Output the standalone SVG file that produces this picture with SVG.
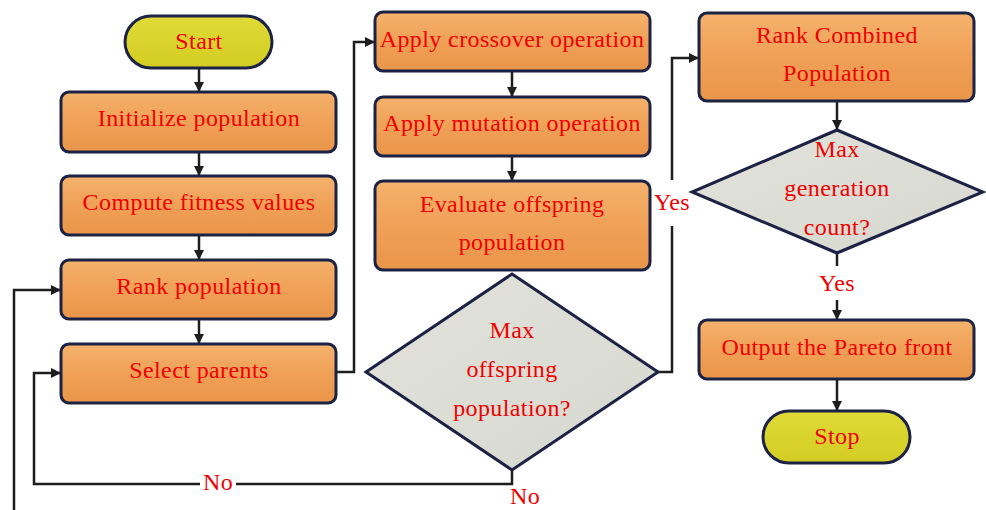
<svg xmlns="http://www.w3.org/2000/svg" width="986" height="510" viewBox="0 0 986 510">
<defs>
<linearGradient id="og" x1="0" y1="0" x2="0" y2="1">
<stop offset="0" stop-color="#f4b26c"/>
<stop offset="0.5" stop-color="#f0a057"/>
<stop offset="1" stop-color="#e99549"/>
</linearGradient>
<linearGradient id="yg" x1="0" y1="0" x2="0" y2="1">
<stop offset="0" stop-color="#e0da38"/>
<stop offset="1" stop-color="#d2cc22"/>
</linearGradient>
<linearGradient id="gg" x1="0" y1="0" x2="1" y2="1">
<stop offset="0" stop-color="#e2e2da"/>
<stop offset="1" stop-color="#d6d8d0"/>
</linearGradient>
<marker id="ah" markerWidth="10" markerHeight="10" refX="9" refY="5" orient="auto" markerUnits="userSpaceOnUse">
<path d="M0,0 L10,5 L0,10 Z" fill="#1e1e1e"/>
</marker>
</defs>
<style>
.box{fill:url(#og);stroke:#1b2244;stroke-width:3}
.term{fill:url(#yg);stroke:#1b2244;stroke-width:3}
.dia{fill:url(#gg);stroke:#1b2244;stroke-width:3}
.t{font-family:"Liberation Serif","Times New Roman",serif;font-size:24px;letter-spacing:0.4px;fill:#f00000;text-anchor:middle}
.c{fill:none;stroke:#1e1e1e;stroke-width:2.5}
.ca{fill:none;stroke:#1e1e1e;stroke-width:2.5;marker-end:url(#ah)}
</style>
<rect width="986" height="510" fill="#ffffff"/>

<g id="connectors">
<line class="ca" x1="199" y1="68" x2="199" y2="91"/>
<line class="ca" x1="199" y1="152" x2="199" y2="175"/>
<line class="ca" x1="199" y1="235" x2="199" y2="259"/>
<line class="ca" x1="199" y1="319" x2="199" y2="343"/>
<polyline class="ca" points="336,372 354,372 354,42 374,42"/>
<line class="ca" x1="512" y1="71" x2="512" y2="96"/>
<line class="ca" x1="512" y1="156" x2="512" y2="180"/>
<polyline class="c" points="658,372 672,372 672,226"/>
<polyline class="ca" points="672,180 672,58 698,58"/>
<polyline class="ca" points="512,470 512,484 34,484 34,373 60,373"/>
<polyline class="ca" points="14,510 14,290 60,290"/>
<line class="ca" x1="837" y1="101" x2="837" y2="129"/>
<line class="c" x1="837" y1="253" x2="837" y2="266"/>
<line class="ca" x1="837" y1="300" x2="837" y2="319"/>
<line class="ca" x1="837" y1="379" x2="837" y2="410"/>
<rect x="200" y="470" width="36" height="22" fill="#ffffff"/>
<text class="t" x="218" y="490">No</text>
<text class="t" x="672" y="210">Yes</text>
<text class="t" x="837" y="291">Yes</text>
<text class="t" x="525" y="504">No</text>
</g>

<g id="start">
<rect class="term" x="125" y="16" width="147" height="52" rx="26"/>
<text class="t" x="199" y="49">Start</text>
</g>
<g id="init">
<rect class="box" x="61" y="92" width="275" height="60" rx="8"/>
<text class="t" x="199" y="126">Initialize population</text>
</g>
<g id="fitness">
<rect class="box" x="61" y="176" width="275" height="59" rx="8"/>
<text class="t" x="199" y="210">Compute fitness values</text>
</g>
<g id="rank">
<rect class="box" x="61" y="260" width="275" height="59" rx="8"/>
<text class="t" x="199" y="294">Rank population</text>
</g>
<g id="select">
<rect class="box" x="61" y="344" width="275" height="59" rx="8"/>
<text class="t" x="199" y="378">Select parents</text>
</g>
<g id="crossover">
<rect class="box" x="375" y="12" width="275" height="59" rx="8"/>
<text class="t" x="512" y="47">Apply crossover operation</text>
</g>
<g id="mutation">
<rect class="box" x="375" y="97" width="275" height="59" rx="8"/>
<text class="t" x="512" y="131">Apply mutation operation</text>
</g>
<g id="evaluate">
<rect class="box" x="375" y="181" width="275" height="89" rx="8"/>
<text class="t" x="512" y="212">Evaluate offspring</text>
<text class="t" x="512" y="250">population</text>
</g>
<g id="maxoff">
<polygon class="dia" points="512,274 658,372 512,470 366,372"/>
<text class="t" x="512" y="338">Max</text>
<text class="t" x="512" y="377">offspring</text>
<text class="t" x="512" y="416">population?</text>
</g>
<g id="rankcomb">
<rect class="box" x="699" y="13" width="275" height="88" rx="8"/>
<text class="t" x="837" y="43">Rank Combined</text>
<text class="t" x="837" y="81">Population</text>
</g>
<g id="maxgen">
<polygon class="dia" points="837,130 983,192 837,253 692,192"/>
<text class="t" x="837" y="157">Max</text>
<text class="t" x="837" y="196">generation</text>
<text class="t" x="837" y="235">count?</text>
</g>
<g id="output">
<rect class="box" x="699" y="320" width="275" height="59" rx="8"/>
<text class="t" x="837" y="355">Output the Pareto front</text>
</g>
<g id="stop">
<rect class="term" x="763" y="411" width="147" height="52" rx="26"/>
<text class="t" x="837" y="444">Stop</text>
</g>
</svg>
